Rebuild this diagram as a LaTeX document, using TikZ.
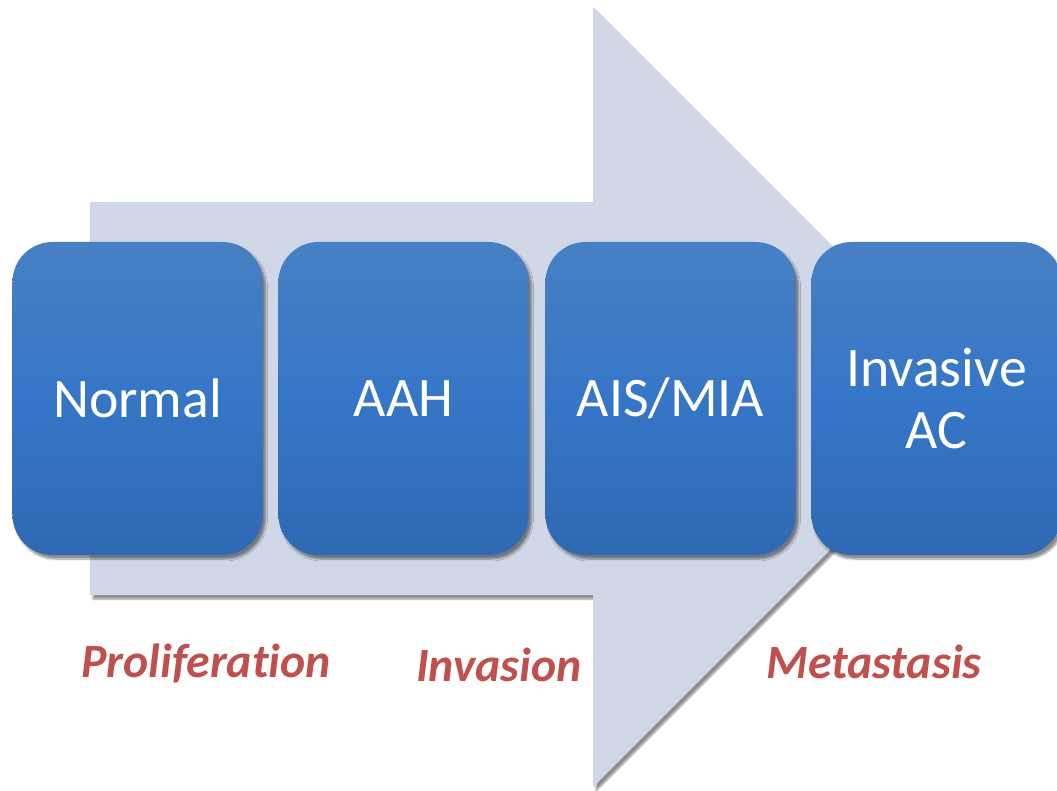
\documentclass[tikz,border=0pt]{standalone}
\usepackage{fontspec}
\setmainfont{Carlito}[RawFeature=-liga]
\usetikzlibrary{shadows.blur}
\definecolor{arrowfill}{HTML}{D0D8E7}
\definecolor{boxtop}{HTML}{4780C3}
\definecolor{boxmid}{HTML}{3676C7}
\definecolor{boxbot}{HTML}{2E69B3}
\definecolor{labred}{HTML}{C0504D}
\tikzset{
  stagebox/.style={rounded corners=40bp, minimum width=250bp, minimum height=313bp,
    inner sep=0pt, top color=boxtop, bottom color=boxbot, middle color=boxmid,
    text=white, align=center, font=\fontsize{56}{63}\selectfont,
    blur shadow={shadow xshift=3bp, shadow yshift=-4bp, shadow blur steps=6, shadow opacity=45}},
  phaselabel/.style={text=labred, font=\fontsize{48}{52}\selectfont\bfseries\itshape}
}
\begin{document}
\begin{tikzpicture}[x=1bp,y=-1bp]
\useasboundingbox (0,0) rectangle (1057,791);
\clip (0,0) rectangle (1057,791);
% big arrow
\fill[arrowfill, blur shadow={shadow xshift=3bp, shadow yshift=-4bp, shadow blur steps=6, shadow opacity=45}]
  (90,202) -- (593,202) -- (593,7) -- (983,397) -- (593,787) -- (593,595) -- (90,595) -- cycle;
% boxes
\node[stagebox] (normal) at (137.5,398.5) {Normal};
\node[stagebox] (aah) at (403.5,398.5) {AAH};
\node[stagebox] (ais) at (670.5,398.5) {AIS/MIA};
\node[stagebox] (inv) at (936.5,398.5) {Invasive\\AC};
% labels
\node[phaselabel] (prolif) at (206,663) {Proliferation};
\node[phaselabel] (invasion) at (499,665) {Invasion};
\node[phaselabel] (meta) at (874,662) {Metastasis};
\end{tikzpicture}
\end{document}
